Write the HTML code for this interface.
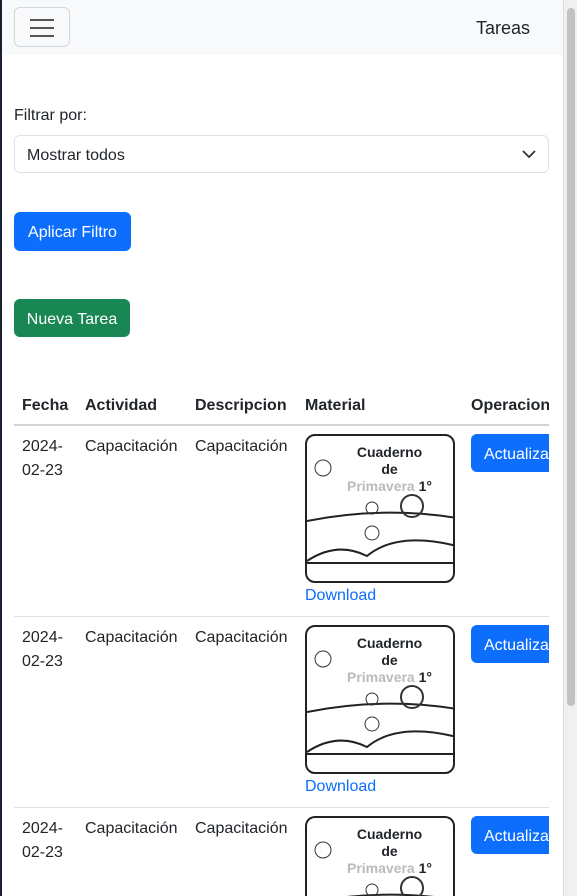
<!DOCTYPE html>
<html style="width:577px;height:896px;overflow:hidden"><head><meta charset="utf-8"><style>
*{box-sizing:border-box;margin:0;padding:0}
body{width:577px;height:896px;overflow:hidden;background:#fff;font-family:"Liberation Sans",Arial,sans-serif;color:#212529;font-size:16px;position:relative}
.lb{position:absolute;left:0;top:0;width:2px;height:896px;background:#1b2030}
.nav{position:absolute;left:2px;top:0;width:561px;height:55px;background:#f8f9fa}
.ham{position:absolute;left:12px;top:7px;width:56px;height:40px;border:1px solid #d5d6d8;border-radius:6px}
.ham i{position:absolute;left:15px;width:24px;height:2px;background:#555}
.abs{position:absolute}
.sel{position:absolute;left:14px;top:135px;width:535px;height:38px;border:1px solid #dee2e6;border-radius:6px;padding:12px 12px;font-size:16px;line-height:16px}
.btn{position:absolute;color:#fff;border-radius:6px;font-size:16px;text-align:center;line-height:41px}
.hr{position:absolute;left:14px;width:535px;height:1px;background:#dee2e6}
.th{position:absolute;top:397px;font-weight:bold}
.td{position:absolute;line-height:24px}
.img{position:absolute;left:305px;width:150px;height:149px;border:2px solid #222;border-radius:10px;background:#fff;overflow:hidden}
.dl{position:absolute;left:305px;color:#0d6efd;font-size:16px}
.sb{position:absolute;left:563px;top:0;width:14px;height:896px;background:#f0f0f0;border-left:1px solid #ddd}
.sb i{position:absolute;left:3px;top:8px;width:8px;height:698px;background:#c2c2c2;border-radius:4px}
</style></head><body>
<div class="lb"></div>
<div class="nav"><div class="ham"><i style="top:11px"></i><i style="top:19px"></i><i style="top:27px"></i></div>
<div class="abs" style="left:474px;top:18px;font-size:18px">Tareas</div></div>
<div class="abs" style="left:14px;top:107px">Filtrar por:</div>
<div class="sel">Mostrar todos<svg class="abs" style="right:12px;top:13px" width="14" height="10"><path d="M1 2l6 6 6-6" fill="none" stroke="#333" stroke-width="1.8"/></svg></div>
<div class="btn" style="left:14px;top:212px;width:117px;height:39px;background:#0d6efd">Aplicar Filtro</div>
<div class="btn" style="left:14px;top:299px;width:116px;height:38px;background:#198754">Nueva Tarea</div>
<div class="th" style="left:22px">Fecha</div><div class="th" style="left:85px">Actividad</div><div class="th" style="left:195px">Descripcion</div><div class="th" style="left:305px">Material</div><div class="th" style="left:471px">Operacion</div>
<div class="hr" style="top:424px;height:2px;background:#cfd3d7"></div>
<div class="hr" style="top:616px"></div><div class="hr" style="top:807px"></div>

<div class="td" style="left:22px;top:435px">2024-<br>02-23</div><div class="td" style="left:85px;top:435px">Capacitación</div><div class="td" style="left:195px;top:435px">Capacitación</div>
<div class="img" style="top:434px"><div class="abs" style="left:40px;top:8px;font-size:14px;line-height:17px;text-align:center;font-weight:bold">Cuaderno<br>de<br><span style="color:#bbb">Primavera</span> 1°</div><svg class="abs" style="left:0;top:0" width="150" height="149"><circle cx="16" cy="32" r="8" fill="none" stroke="#333"/><path d="M0 85 Q75 70 150 82 M0 125 Q30 105 60 120 Q90 95 150 110 M0 127 H150" fill="none" stroke="#222" stroke-width="2"/><circle cx="105" cy="70" r="11" fill="none" stroke="#333" stroke-width="2"/><circle cx="65" cy="72" r="6" fill="none" stroke="#333"/><circle cx="65" cy="97" r="7" fill="none" stroke="#333"/></svg></div>
<div class="dl" style="top:587px">Download</div>
<div class="btn" style="left:471px;top:434px;width:90px;height:38px;background:#0d6efd;text-align:left;padding-left:13px;border-radius:6px 0 0 6px">Actualiza</div>

<div class="td" style="left:22px;top:626px">2024-<br>02-23</div><div class="td" style="left:85px;top:626px">Capacitación</div><div class="td" style="left:195px;top:626px">Capacitación</div>
<div class="img" style="top:625px"><div class="abs" style="left:40px;top:8px;font-size:14px;line-height:17px;text-align:center;font-weight:bold">Cuaderno<br>de<br><span style="color:#bbb">Primavera</span> 1°</div><svg class="abs" style="left:0;top:0" width="150" height="149"><circle cx="16" cy="32" r="8" fill="none" stroke="#333"/><path d="M0 85 Q75 70 150 82 M0 125 Q30 105 60 120 Q90 95 150 110 M0 127 H150" fill="none" stroke="#222" stroke-width="2"/><circle cx="105" cy="70" r="11" fill="none" stroke="#333" stroke-width="2"/><circle cx="65" cy="72" r="6" fill="none" stroke="#333"/><circle cx="65" cy="97" r="7" fill="none" stroke="#333"/></svg></div>
<div class="dl" style="top:778px">Download</div>
<div class="btn" style="left:471px;top:625px;width:90px;height:38px;background:#0d6efd;text-align:left;padding-left:13px;border-radius:6px 0 0 6px">Actualiza</div>

<div class="td" style="left:22px;top:817px">2024-<br>02-23</div><div class="td" style="left:85px;top:817px">Capacitación</div><div class="td" style="left:195px;top:817px">Capacitación</div>
<div class="img" style="top:816px;height:80px;border-bottom:none;border-radius:10px 10px 0 0"><div class="abs" style="left:40px;top:8px;font-size:14px;line-height:17px;text-align:center;font-weight:bold">Cuaderno<br>de<br><span style="color:#bbb">Primavera</span> 1°</div><svg class="abs" style="left:0;top:0" width="150" height="80"><circle cx="16" cy="32" r="8" fill="none" stroke="#333"/><path d="M0 85 Q75 70 150 82" fill="none" stroke="#222" stroke-width="2"/><circle cx="105" cy="70" r="11" fill="none" stroke="#333" stroke-width="2"/><circle cx="65" cy="72" r="6" fill="none" stroke="#333"/></svg></div>
<div class="btn" style="left:471px;top:816px;width:90px;height:38px;background:#0d6efd;text-align:left;padding-left:13px;border-radius:6px 0 0 6px">Actualiza</div>
<div class="abs" style="left:549px;top:380px;width:14px;height:516px;background:#fff"></div>
<div class="sb"><i></i></div>
</body></html>
